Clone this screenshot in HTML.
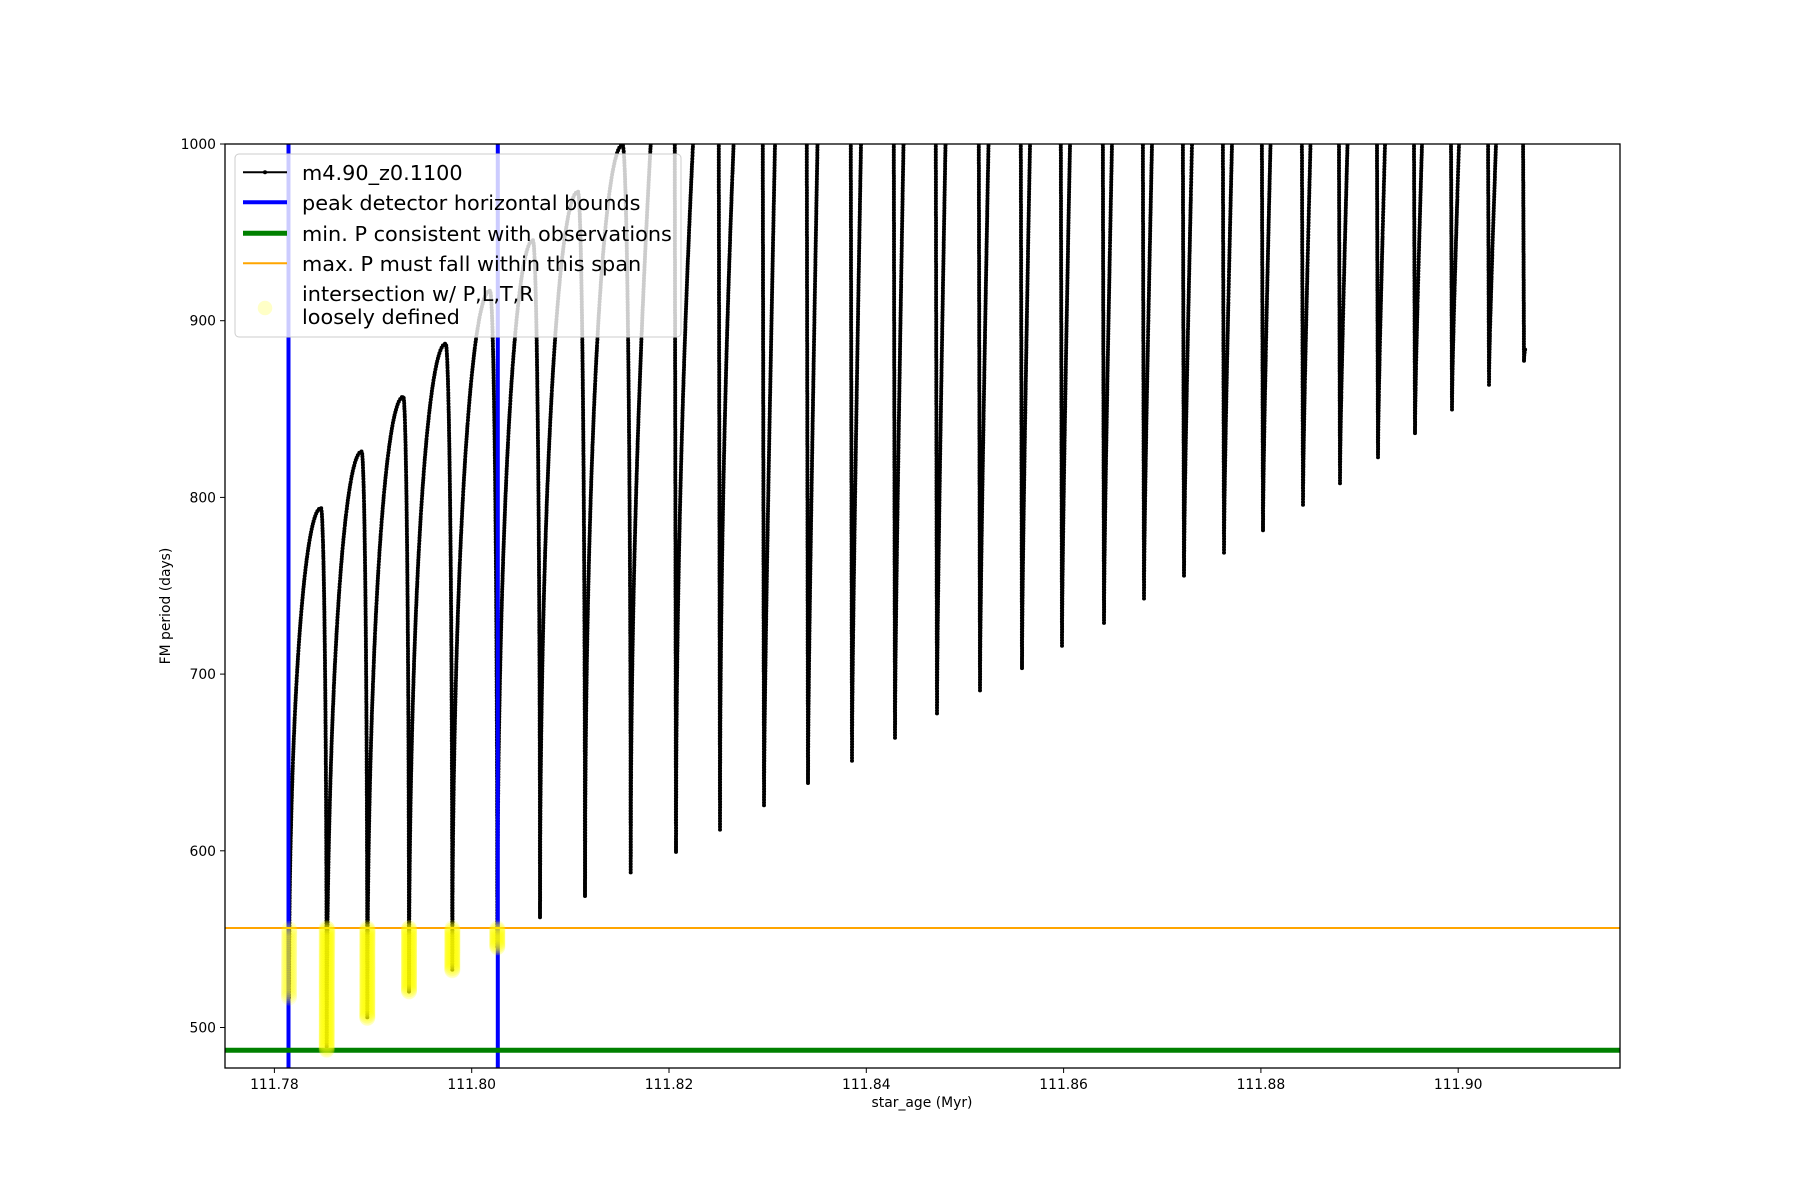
<!DOCTYPE html>
<html><head><meta charset="utf-8"><style>
html,body{margin:0;padding:0;background:#fff;}
svg{display:block;font-family:"DejaVu Sans","Liberation Sans",sans-serif;}
</style></head><body>
<svg id="s" width="1800" height="1200" viewBox="0 0 1800 1200" xmlns="http://www.w3.org/2000/svg">
<defs><clipPath id="c"><rect x="225" y="144" width="1395" height="924"/></clipPath></defs>
<rect width="1800" height="1200" fill="#fff"/>
<g id="data" clip-path="url(#c)"></g>
<g clip-path="url(#c)">
<line x1="288.5" y1="144" x2="288.5" y2="1068" stroke="#0000ff" stroke-width="4"/>
<line x1="497.8" y1="144" x2="497.8" y2="1068" stroke="#0000ff" stroke-width="4"/>
<line x1="225" y1="1050.3" x2="1620" y2="1050.3" stroke="#008000" stroke-width="5"/>
<line x1="225" y1="928" x2="1620" y2="928" stroke="#ffa500" stroke-width="2"/>
<g id="yel"></g>
</g>
<rect x="225" y="144" width="1395" height="924" fill="none" stroke="#000" stroke-width="1.3"/>
<g id="ticks" font-size="13.9" fill="#000"></g>
<text x="922" y="1107" font-size="13.9" text-anchor="middle">star_age (Myr)</text>
<text transform="translate(170,606) rotate(-90)" font-size="13.9" text-anchor="middle">FM period (days)</text>
<rect x="235" y="154" width="446" height="183" rx="4" ry="4" fill="#fff" fill-opacity="0.8" stroke="#cccccc" stroke-width="1"/>
<line x1="243" y1="172.3" x2="287" y2="172.3" stroke="#000" stroke-width="2"/>
<circle cx="265" cy="172.3" r="2" fill="#000"/>
<line x1="243" y1="202.3" x2="287" y2="202.3" stroke="#0000ff" stroke-width="4"/>
<line x1="243" y1="233.3" x2="287" y2="233.3" stroke="#008000" stroke-width="5"/>
<line x1="243" y1="263.3" x2="287" y2="263.3" stroke="#ffa500" stroke-width="2"/>
<circle cx="265" cy="308" r="7.3" fill="#ffff00" fill-opacity="0.22"/>
<g font-size="20.8" fill="#000">
<text x="302" y="179.8">m4.90_z0.1100</text>
<text x="302" y="209.8">peak detector horizontal bounds</text>
<text x="302" y="240.8">min. P consistent with observations</text>
<text x="302" y="270.8">max. P must fall within this span</text>
<text x="302" y="300.8">intersection w/ P,L,T,R</text>
<text x="302" y="324.2">loosely defined</text>
</g>
</svg>
<script>
(function(){
var NS="http://www.w3.org/2000/svg";
function Y(v){return 144+(1000-v)*1.767;}
var tk=document.getElementById("ticks"),h="";
for(var i=0;i<=5;i++){var v=500+i*100,y=Y(v);
 h+='<line x1="220" y1="'+y+'" x2="225" y2="'+y+'" stroke="#000" stroke-width="1"/>';
 h+='<text x="216" y="'+(y+5)+'" text-anchor="end">'+v+'</text>';}
for(var i=0;i<=6;i++){var x=274.4+i*197.3;
 h+='<line x1="'+x+'" y1="1068" x2="'+x+'" y2="1073" stroke="#000" stroke-width="1"/>';
 h+='<text x="'+x+'" y="1089" text-anchor="middle">'+(111.78+i*0.02).toFixed(2)+'</text>';}
tk.innerHTML=h;
var pts=[];
function add(x,v){pts.push([x,Y(v)]);}
var sx=289,sv=517;
var arcs=[[321,794,326.7,487],[361.7,826,367.3,505],[403.3,857,409,520],[445.7,887,452.3,532],
[490,917,497.3,545],[533,945.5,540,562],[578,973,585,574],[622.6,999.5,630.7,587]];
var x0=sx,m0=sv,N=160,k,i;
for(k=0;k<arcs.length;k++){var a=arcs[k];
 for(i=0;i<=N;i++){var u=i/N;add(x0+(a[0]-x0)*u,m0+(a[1]-m0)*Math.sqrt(1-(1-u)*(1-u)));}
 for(i=1;i<=60;i++){var u=i/60;add(a[0]+(a[2]-a[0])*u,a[3]+(a[1]-a[3])*Math.sqrt(Math.max(0,1-u*u)));}
 x0=a[2];m0=a[3];}
var sp=[[676,599],[720,612],[764,625],[808,638],[852,651],[895,664],[937,677],[980,690],[1022,703],[1062,716],[1104,729],[1144,742],[1184,755],[1224,768],[1263,781],[1303,795],[1340,808],[1378,822],[1415,836],[1452,849],[1489,863],[1524,877]];
var ws=[20,17,13.6,11,9.5,9,8.5,8.5,8.5,8,8,8,8,8,8,7.5,7.5,7.5,7,7,7,7];
for(k=0;k<sp.length;k++){
 var w=ws[k],bl=k<3?1:0.35;
 for(i=0;i<=80;i++){var u=i/80*1.1;add(x0+w*u,m0+(1000-m0)*(bl*Math.sqrt(u)+(1-bl)*u));}
 var xm=sp[k][0],vm=sp[k][1];
 for(i=0;i<=80;i++){var u=i/80;add(xm-1.5+1.5*u,vm+(1080-vm)*(1-u));}
 x0=xm;m0=vm;}
for(i=0;i<=10;i++){var u=i/10;add(x0+1.2*u,m0+7*Math.sqrt(u));}
var dp=[pts[0]];
for(i=1;i<pts.length;i++){var a=pts[i-1],b=pts[i],L=Math.hypot(b[0]-a[0],b[1]-a[1]),n=Math.max(1,Math.ceil(L/0.7));
 for(var j=1;j<=n;j++){dp.push([a[0]+(b[0]-a[0])*j/n,a[1]+(b[1]-a[1])*j/n]);}}
var d="M"+pts[0][0].toFixed(1)+" "+pts[0][1].toFixed(1);
for(i=1;i<pts.length;i++)d+="L"+pts[i][0].toFixed(1)+" "+pts[i][1].toFixed(1);
var g=document.getElementById("data");
var p=document.createElementNS(NS,"path");p.setAttribute("d",d);p.setAttribute("fill","none");p.setAttribute("stroke","#000");p.setAttribute("stroke-width","2.6");g.appendChild(p);
var md="",last=null,acc=0;
for(i=0;i<dp.length;i++){var q=dp[i];
 if(last){acc+=Math.hypot(q[0]-last[0],q[1]-last[1]);}
 if(!last||acc>=2.5){if(q[1]>=140&&q[1]<=1072)md+="M"+(q[0]-2).toFixed(1)+" "+q[1].toFixed(1)+"a2 2 0 1 0 4 0a2 2 0 1 0 -4 0";acc=0;}
 last=q;}
var mp=document.createElementNS(NS,"path");mp.setAttribute("d",md);mp.setAttribute("fill","#000");g.appendChild(mp);
var yd="",yg=document.getElementById("yel");last=null;acc=0;
for(i=0;i<dp.length;i++){var q=dp[i];
 if(q[0]<=500&&q[1]>=928){
  if(last){acc+=Math.hypot(q[0]-last[0],q[1]-last[1]);}
  if(!last||acc>=2){yd+='<circle cx="'+q[0].toFixed(1)+'" cy="'+q[1].toFixed(1)+'" r="8"/>';acc=0;}
  last=q;}}
yg.setAttribute("fill","#ffff00");yg.setAttribute("fill-opacity","0.15");
yg.innerHTML=yd;
})();
</script>
</body></html>
